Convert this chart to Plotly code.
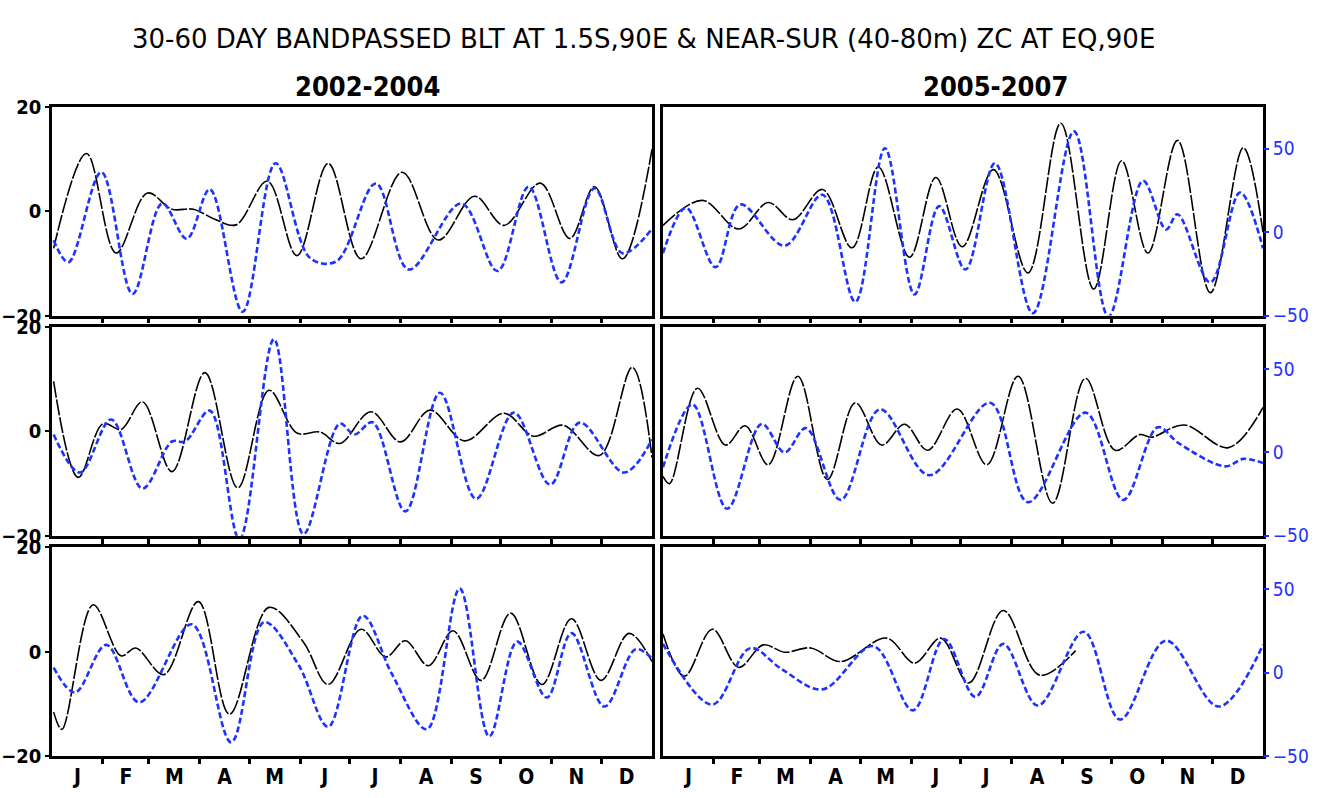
import plotly.graph_objects as go

# ---------------------------------------------------------------------------
# 30-60 day band-passed BLT (m, left axis, black) and near-surface ZC
# (cm/s, right axis, blue); day-of-year positions of the turning points.
# ---------------------------------------------------------------------------
blt_2002_day = [1, 21, 39, 58, 73, 86, 99, 112, 131, 149, 168, 188, 213, 235, 257, 275, 297, 315, 330, 347, 365]
blt_2002 = [-7.1, 11.1, -8.0, 3.5, 0.4, 0.4, -1.5, -2.6, 5.8, -8.5, 9.2, -9.1, 7.5, -5.5, 2.9, -2.7, 5.4, -5.2, 4.7, -9.1, 11.9]
zc_2002_day = [1, 10, 30, 49, 67, 82, 96, 116, 136, 157, 173, 197, 217, 249, 271, 290, 310, 330, 347, 365]
zc_2002 = [-4.8, -18.0, 36.0, -37.0, 17.2, -3.9, 25.7, -47.7, 41.3, -15.5, -17.5, 29.2, -22.4, 17.2, -23.3, 27.3, -30.1, 26.3, -12.6, 2.0]

blt_2003_day = [1, 16, 31, 42, 55, 73, 93, 113, 132, 149, 163, 175, 194, 212, 230, 251, 275, 293, 311, 333, 353, 365]
blt_2003 = [9.6, -8.8, 1.5, 0.4, 5.7, -7.7, 11.3, -10.8, 7.9, -0.3, -0.1, -2.3, 3.8, -2.0, 4.1, -1.8, 3.5, -0.9, 1.2, -4.6, 12.3, -5.0]
zc_2003_day = [1, 17, 36, 55, 73, 81, 96, 114, 135, 153, 175, 184, 195, 215, 236, 258, 281, 303, 321, 348, 365]
zc_2003 = [10.7, -12.1, 19.7, -21.7, 6.5, 6.5, 25.0, -52.0, 67.8, -49.0, 17.2, 10.7, 18.0, -35.4, 35.7, -27.9, 23.8, -19.4, 17.8, -12.1, 7.7]

blt_2004_day = [1, 6, 25, 42, 51, 68, 89, 108, 132, 153, 168, 188, 203, 215, 229, 244, 261, 279, 298, 316, 334, 351, 365]
blt_2004 = [-11.6, -14.9, 9.0, -0.8, 0.7, -4.4, 9.6, -12.0, 8.5, 1.8, -6.3, 4.3, -1.0, 2.1, -2.7, 4.0, -5.5, 7.4, -6.3, 6.3, -5.5, 3.5, -1.9]
zc_2004_day = [1, 14, 33, 53, 85, 109, 129, 150, 168, 189, 207, 228, 248, 266, 283, 301, 316, 336, 355, 365]
zc_2004 = [3.0, -12.0, 16.6, -17.9, 28.9, -41.8, 30.2, 4.5, -32.5, 34.1, -1.3, -34.0, 50.3, -38.3, 18.5, -15.0, 23.6, -20.4, 13.9, 8.4]

blt_2005_day = [0, 24, 46, 64, 79, 97, 115, 131, 150, 166, 182, 201, 222, 242, 262, 279, 295, 313, 333, 353, 365]
blt_2005 = [-2.7, 2.1, -3.4, 1.7, -1.6, 4.2, -7.0, 8.5, -8.8, 6.5, -6.8, 8.0, -11.8, 16.9, -14.9, 9.7, -8.0, 13.6, -15.6, 12.2, -4.0]
zc_2005_day = [0, 14, 32, 47, 74, 97, 117, 135, 153, 168, 184, 202, 225, 250, 271, 292, 306, 313, 333, 351, 365]
zc_2005 = [-12.6, 14.6, -21.0, 16.6, -8.1, 22.4, -41.8, 50.3, -37.3, 15.6, -22.4, 41.3, -48.6, 60.4, -50.6, 30.8, 1.6, 10.7, -30.1, 23.8, -9.7]

blt_2006_day = [0, 4, 21, 38, 50, 64, 82, 100, 117, 133, 147, 161, 179, 197, 216, 237, 257, 275, 290, 297, 317, 344, 365]
blt_2006 = [-8.6, -10.0, 8.3, -2.6, 1.1, -6.4, 10.6, -9.2, 5.5, -2.6, 1.4, -3.6, 4.3, -6.4, 10.6, -13.75, 10.2, -3.6, -0.6, -1.1, 1.25, -3.1, 4.6]
zc_2006_day = [0, 18, 39, 60, 74, 87, 108, 132, 162, 199, 222, 257, 280, 301, 314, 342, 353, 365]
zc_2006 = [-9.0, 28.7, -33.8, 17.0, 0.0, 14.5, -28.5, 25.8, -13.7, 29.7, -29.9, 23.8, -28.5, 15.0, 5.3, -8.4, -3.9, -6.4]

blt_2007_day = [0, 13, 30, 46, 61, 74, 90, 108, 136, 153, 169, 186, 207, 229, 251]
blt_2007 = [3.4, -4.7, 4.3, -3.0, 1.3, -0.1, 0.7, -1.9, 2.6, -2.2, 2.6, -6.0, 7.9, -4.5, 0.2]
zc_2007_day = [0, 30, 53, 72, 97, 128, 152, 171, 190, 207, 228, 256, 278, 306, 338, 365]
zc_2007 = [17.2, -19.2, 14.6, 2.2, -10.1, 15.8, -22.7, 20.1, -14.6, 17.2, -19.8, 24.4, -28.2, 19.1, -20.4, 16.6]

month_labels = ["J", "F", "M", "A", "M", "J", "J", "A", "S", "O", "N", "D"]
month_lengths = [31, 28, 31, 30, 31, 30, 31, 31, 30, 31, 30, 31]

blt_ticks = [-20, 0, 20]
zc_ticks = [-50, 0, 50]
blt_range = [-20, 20]
zc_range = [-50, 75]

panels = [
    # (row, col, blt days, blt, zc days, zc)
    (0, 0, blt_2002_day, blt_2002, zc_2002_day, zc_2002),
    (0, 1, blt_2005_day, blt_2005, zc_2005_day, zc_2005),
    (1, 0, blt_2003_day, blt_2003, zc_2003_day, zc_2003),
    (1, 1, blt_2006_day, blt_2006, zc_2006_day, zc_2006),
    (2, 0, blt_2004_day, blt_2004, zc_2004_day, zc_2004),
    (2, 1, blt_2007_day, blt_2007, zc_2007_day, zc_2007),
]

# month boundaries (ticks) and month centres (labels)
bounds = []
centres = []
acc = 0
for n in month_lengths:
    centres.append(acc + n / 2)
    acc += n
    bounds.append(acc)
bounds = bounds[:-1]

W, H = 1322, 798
col_px = [(52, 652), (663, 1263)]
row_px = [(98, 313), (325, 540), (552, 767)]

BLUE = "rgb(30,50,255)"
FONT = "DejaVu Sans, sans-serif"
FONT_C = "DejaVu Sans Condensed, DejaVu Sans, sans-serif"

fig = go.Figure()
layout = dict(
    width=W, height=H,
    margin=dict(l=0, r=0, t=0, b=0),
    paper_bgcolor="white", plot_bgcolor="white",
    showlegend=False,
    font=dict(family=FONT, color="black"),
)

for i, (r, c, bd, bv, zd, zv) in enumerate(panels):
    k = i + 1
    xa = "x" if k == 1 else f"x{k}"
    ya_l = 2 * k - 1
    ya_r = 2 * k
    yl = "y" if ya_l == 1 else f"y{ya_l}"
    yr = f"y{ya_r}"
    x0, x1 = col_px[c]
    t0, t1 = row_px[r]
    xdom = [x0 / W, x1 / W]
    ydom = [1 - t1 / H, 1 - t0 / H]
    bottom = r == 2

    layout["xaxis" if k == 1 else f"xaxis{k}"] = dict(
        domain=xdom, anchor=yl, range=[0, 365],
        showgrid=False, zeroline=False,
        showline=True, linecolor="black", linewidth=2.5, mirror=True,
        tickmode="array", tickvals=centres,
        ticktext=month_labels if bottom else [""] * 12,
        ticks="", showticklabels=bottom,
        tickfont=dict(family=FONT_C, size=21, color="black", weight="bold"),
        minor=dict(tickmode="array", tickvals=bounds, ticks="outside",
                   ticklen=5, tickwidth=2.5, tickcolor="black", showgrid=False),
    )
    layout["yaxis" if ya_l == 1 else f"yaxis{ya_l}"] = dict(
        domain=ydom, anchor=xa, range=blt_range,
        showgrid=False, zeroline=False,
        showline=True, linecolor="black", linewidth=2.5, mirror=True,
        tickmode="array", tickvals=blt_ticks,
        ticks="outside" if c == 0 else "", ticklen=4, tickwidth=2, tickcolor="black",
        showticklabels=(c == 0),
        tickfont=dict(family=FONT_C, size=20, color="black", weight="bold"),
    )
    layout[f"yaxis{ya_r}"] = dict(
        overlaying=yl, side="right", anchor=xa, range=zc_range,
        showgrid=False, zeroline=False, showline=False,
        tickmode="array", tickvals=zc_ticks,
        ticks="outside" if c == 1 else "", ticklen=5, tickwidth=2, tickcolor=BLUE,
        showticklabels=(c == 1),
        tickfont=dict(family=FONT_C, size=19, color=BLUE),
    )

    fig.add_trace(go.Scatter(
        x=bd, y=bv, xaxis=xa, yaxis=yl, mode="lines",
        line=dict(color="black", width=1.6, dash="16px,2px", shape="spline", smoothing=1.0),
        cliponaxis=True, name="BLT",
    ))
    fig.add_trace(go.Scatter(
        x=zd, y=zv, xaxis=xa, yaxis=yr, mode="lines",
        line=dict(color=BLUE, width=2.6, dash="6px,3px", shape="spline", smoothing=1.0),
        cliponaxis=True, name="ZC",
    ))

annotations = [
    dict(text="30-60 DAY BANDPASSED BLT AT 1.5S,90E & NEAR-SUR (40-80m) ZC AT EQ,90E",
         x=643 / W, y=1 - 28 / H, xref="paper", yref="paper", showarrow=False,
         xanchor="center", yanchor="middle",
         font=dict(family=FONT, size=26, color="black")),
    dict(text="<b>2002-2004</b>", x=367 / W, y=1 - 77 / H, xref="paper", yref="paper",
         showarrow=False, xanchor="center", yanchor="middle",
         font=dict(family=FONT_C, size=27, color="black")),
    dict(text="<b>2005-2007</b>", x=995 / W, y=1 - 77 / H, xref="paper", yref="paper",
         showarrow=False, xanchor="center", yanchor="middle",
         font=dict(family=FONT_C, size=27, color="black")),
]
layout["annotations"] = annotations

fig.update_layout(**layout)
fig.write_html("out.html")
